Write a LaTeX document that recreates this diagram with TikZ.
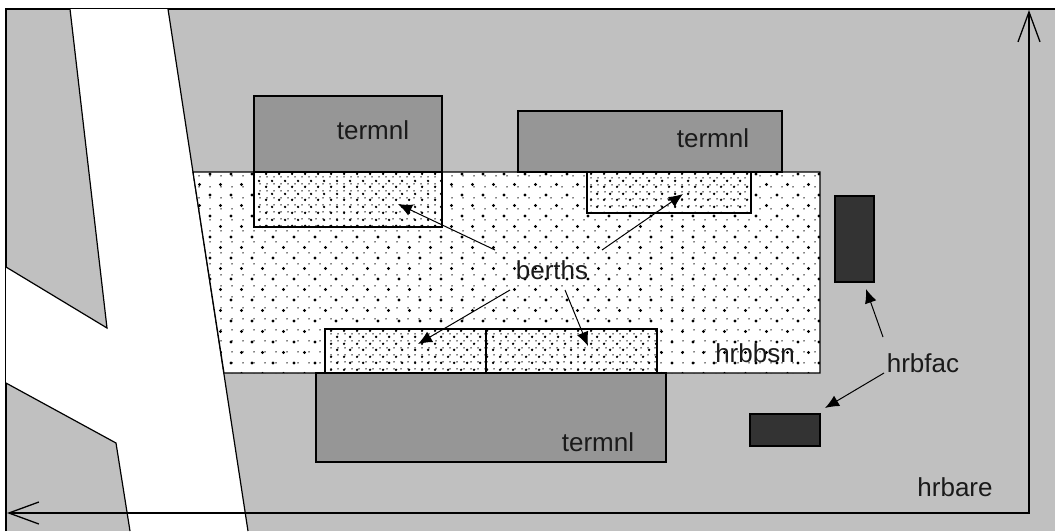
\documentclass[tikz,border=0pt]{standalone}
\usepackage{fontspec}
\setmainfont{Liberation Sans}
\usetikzlibrary{patterns.meta,arrows.meta}
\definecolor{bggray}{HTML}{C0C0C0}
\definecolor{termgray}{HTML}{969696}
\definecolor{facgray}{HTML}{333333}
\definecolor{txtgray}{HTML}{1A1A1A}
\tikzset{
  edge/.style={draw=black,line width=1.2pt},
  termbox/.style={edge,fill=termgray},
  facbox/.style={edge,fill=facgray},
  basinfill/.style={fill=white},
  basindots/.style={pattern={Dots[distance=10.5pt,radius=0.8pt]}},
  basinbigA/.style={pattern={Dots[distance=21pt,radius=1.6pt]}},
  basinbigB/.style={pattern={Dots[distance=21pt,radius=1.6pt,xshift=10.5pt,yshift=10.5pt]}},
  berthdots/.style={pattern={Dots[distance=6.5pt,radius=0.8pt]}},
  berthbigA/.style={pattern={Dots[distance=13pt,radius=1.4pt]}},
  berthbigB/.style={pattern={Dots[distance=13pt,radius=1.4pt,xshift=6.5pt,yshift=6.5pt]}},
  lbl/.style={font=\fontsize{26}{30}\selectfont,text=txtgray,inner sep=0pt},
  pointer/.style={line width=1pt,-{Latex[length=14pt,width=12pt]}},
  axis/.style={line width=1.3pt,{Straight Barb[length=30pt,width=22pt]}-{Straight Barb[length=30pt,width=22pt]}}
}
\begin{document}
\begin{tikzpicture}[x=1pt,y=-1pt]
\useasboundingbox (0,0) rectangle (1055,531);
% background
\fill[white] (0,0) rectangle (1055,531);
\fill[bggray] (6,9) rectangle (1055,531);
\draw[line width=1.3pt] (6,531) -- (6,9) -- (1055,9);
% road
\fill[white] (70,9) -- (168,9) -- (248,531) -- (130,531) -- (116,443) -- (6,383) -- (6,267) -- (107,328) -- cycle;
\draw[edge] (70,9) -- (107,328) -- (6,267);
\draw[edge] (6,383) -- (116,443) -- (130,531);
\draw[edge] (168,9) -- (248,531);
% basin
\fill[basinfill] (193,172) -- (820,172) -- (820,373) -- (224,373) -- cycle;
\foreach \p in {basindots,basinbigA,basinbigB}{
  \fill[\p] (193,172) -- (820,172) -- (820,373) -- (224,373) -- cycle;
}
\draw[edge] (193,172) -- (820,172) -- (820,373) -- (224,373) -- cycle;
% terminals
\draw[termbox] (254,96) rectangle (442,172);
\draw[termbox] (518,111) rectangle (782,172);
\draw[termbox] (316,373) rectangle (666,462);
% berths
\foreach \a/\b/\c/\d in {254/172/442/227, 587/172/751/213, 325/329/486/373, 486/329/657/373}{
  \fill[white] (\a,\b) rectangle (\c,\d);
  \fill[berthdots] (\a,\b) rectangle (\c,\d);
  \fill[berthbigA] (\a,\b) rectangle (\c,\d);
  \fill[berthbigB] (\a,\b) rectangle (\c,\d);
  \draw[edge] (\a,\b) rectangle (\c,\d);
}
% facilities
\draw[facbox] (835,196) rectangle (874,282);
\draw[facbox] (750,414) rectangle (820,446);
% axes
\coordinate (ytop) at (1029,10);
\coordinate (corner) at (1029,513);
\coordinate (xleft) at (7,513);
\draw[axis] (ytop) -- (corner) -- (xleft);
% labels
\node[lbl] (t1) at (373,130) {termnl};
\node[lbl] (t2) at (713,138) {termnl};
\node[lbl] (t3) at (598,442) {termnl};
\node[lbl] (bs) at (755,353) {hrbbsn};
\node[lbl] (be) at (552,270) {berths};
\node[lbl] (hf) at (923,363) {hrbfac};
\node[lbl] (ha) at (955,487) {hrbare};
% pointer ends
\coordinate (b1s) at (495,250);
\coordinate (b1) at (398,204);
\coordinate (b2s) at (602,250);
\coordinate (b2) at (683,194);
\coordinate (b3s) at (510,290);
\coordinate (b3) at (418,344);
\coordinate (b4s) at (565,290);
\coordinate (b4) at (588,346);
\coordinate (f1s) at (883,337);
\coordinate (f1) at (866,289);
\coordinate (f2s) at (884,373);
\coordinate (f2) at (825,408);
\draw[pointer] (b1s) -- (b1);
\draw[pointer] (b2s) -- (b2);
\draw[pointer] (b3s) -- (b3);
\draw[pointer] (b4s) -- (b4);
\draw[pointer] (f1s) -- (f1);
\draw[pointer] (f2s) -- (f2);
\end{tikzpicture}
\end{document}
